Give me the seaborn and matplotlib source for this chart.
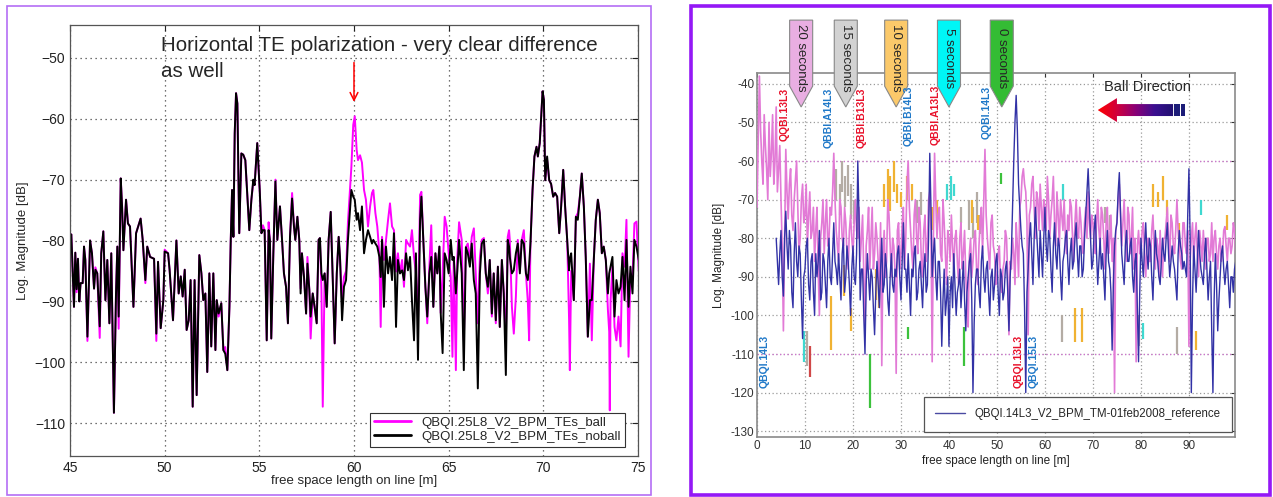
import numpy as np
import pandas as pd
import matplotlib
matplotlib.use("Agg")
from matplotlib import pyplot as plt
from matplotlib.patches import Polygon, Rectangle
from matplotlib.colors import LinearSegmentedColormap
import seaborn as sns

# ---------------- left panel data ----------------
x_a = [45.00, 45.07, 45.21, 45.28, 45.35, 45.42, 45.49, 45.56, 45.67, 45.74,
       45.81, 45.92, 46.06, 46.16, 46.27, 46.34, 46.44, 46.57, 46.65, 46.76,
       46.87, 46.97, 47.08, 47.18, 47.32, 47.43, 47.50, 47.57, 47.68, 47.75,
       47.82, 47.96, 48.06, 48.17, 48.35, 48.49, 48.73, 48.84, 48.98, 49.08,
       49.23, 49.44, 49.56, 49.65, 49.79, 49.93, 50.00, 50.18, 50.26, 50.44,
       50.62, 50.74, 50.85, 50.95, 51.06, 51.16, 51.27, 51.37, 51.48, 51.58,
       51.69, 51.83, 51.94, 52.04, 52.15, 52.25, 52.36, 52.46, 52.57, 52.68,
       52.75, 52.85, 52.99, 53.10, 53.20, 53.31, 53.42, 53.49, 53.56, 53.63,
       53.70, 53.77, 53.84, 53.94, 54.05, 54.15, 54.26, 54.47, 54.58, 54.68,
       54.75, 54.89]
noball_a = [-79.5, -79.0, -90.9, -82.0, -88.0, -83.0, -90.0, -87.0, -87.0, -81.0,
            -83.2, -95.8, -80.0, -82.1, -87.9, -84.8, -85.4, -94.1, -82.1, -78.5,
            -89.8, -83.2, -93.6, -82.1, -108.3, -88.7, -81.0, -92.5, -69.8, -74.4,
            -81.6, -73.3, -77.2, -77.7, -90.9, -78.8, -76.4, -79.9, -86.5, -81.0,
            -82.7, -83.0, -95.3, -83.5, -94.4, -89.8, -81.8, -82.1, -84.8, -93.1,
            -80.0, -88.7, -85.9, -89.2, -84.8, -94.7, -93.1, -86.5, -107.3, -86.5,
            -105.4, -82.4, -85.4, -89.8, -88.7, -101.6, -85.4, -97.4, -85.4, -98.0,
            -89.8, -92.0, -90.3, -98.0, -98.6, -101.3, -90.9, -80.0, -71.7, -79.4,
            -62.4, -55.8, -57.5, -78.8, -65.7, -65.9, -66.8, -78.3, -73.3, -70.0,
            -70.9, -64.0]
ball_a = [-79.5, -79.0, -90.9, -82.0, -88.5, -83.0, -90.0, -87.0, -87.0, -81.0,
          -83.2, -96.5, -80.0, -82.1, -87.9, -84.4, -85.4, -96.0, -82.1, -78.5,
          -89.8, -83.2, -93.6, -82.1, -108.3, -88.7, -81.0, -94.5, -69.8, -74.4,
          -81.6, -73.3, -77.2, -77.7, -90.9, -78.8, -76.4, -79.9, -87.0, -81.0,
          -82.7, -83.0, -96.5, -83.5, -94.4, -89.8, -81.5, -82.1, -84.8, -93.1,
          -80.0, -88.7, -85.9, -89.2, -84.8, -94.7, -93.1, -86.5, -107.3, -86.5,
          -105.4, -82.4, -85.4, -89.8, -88.7, -101.6, -85.4, -97.4, -85.4, -98.0,
          -89.8, -92.5, -90.3, -98.0, -97.5, -101.3, -90.9, -80.0, -71.7, -79.4,
          -62.4, -55.8, -57.5, -78.8, -65.7, -65.9, -66.8, -78.3, -73.3, -70.5,
          -70.9, -64.0]

x_b = [55.02, 55.11, 55.19, 55.28, 55.39, 55.49, 55.56, 55.63, 55.74, 55.85,
       55.95, 56.09, 56.20, 56.30, 56.41, 56.51, 56.62, 56.73, 56.83, 56.90,
       57.01, 57.11, 57.18, 57.25, 57.36, 57.47, 57.54, 57.64, 57.71, 57.82,
       57.92, 58.03, 58.13, 58.20, 58.28, 58.35, 58.45, 58.56, 58.66, 58.77,
       58.87, 58.98, 59.09, 59.19, 59.26, 59.37, 59.47, 59.58, 59.68, 59.86,
       59.96, 60.04, 60.14, 60.21, 60.32, 60.42, 60.53, 60.63, 60.74, 60.85,
       60.95, 61.02, 61.13, 61.23, 61.34, 61.41, 61.48, 61.58, 61.69, 61.80,
       61.90, 62.01, 62.11, 62.22, 62.32, 62.43, 62.54, 62.64, 62.75, 62.85,
       62.96, 63.06, 63.17, 63.27, 63.38, 63.49, 63.56, 63.66, 63.77, 63.87,
       63.98, 64.08, 64.19, 64.30, 64.40, 64.51, 64.58, 64.68, 64.79, 64.89,
       65.00, 65.11]
noball_b = [-71.7, -78.8, -78.3, -78.3, -96.4, -78.3, -80.0, -96.1, -82.1, -70.3,
            -79.9, -74.4, -79.9, -85.4, -87.6, -93.6, -79.4, -73.1, -77.7, -79.9,
            -76.1, -79.9, -88.7, -82.1, -86.0, -92.0, -83.8, -88.1, -92.5, -88.7,
            -90.9, -93.6, -79.9, -79.6, -85.4, -86.5, -85.4, -90.9, -79.9, -75.3,
            -85.4, -96.9, -85.4, -79.4, -82.7, -93.1, -87.6, -86.5, -79.9, -71.7,
            -72.8, -73.3, -76.6, -75.5, -78.3, -74.4, -82.1, -79.9, -78.3, -79.4,
            -80.5, -79.9, -80.5, -81.0, -82.7, -86.0, -79.9, -90.9, -81.0, -85.4,
            -82.7, -86.5, -78.8, -94.2, -83.2, -85.4, -84.9, -86.5, -82.1, -84.9,
            -82.7, -89.8, -96.4, -82.1, -99.6, -76.6, -72.8, -79.9, -87.6, -92.5,
            -85.4, -82.7, -90.9, -82.1, -85.4, -81.0, -91.9, -98.5, -82.1, -83.2,
            -85.4, -79.9]
ball_b = [-71.7, -78.8, -77.5, -78.3, -96.4, -77.0, -80.0, -96.1, -82.1, -70.0,
          -79.9, -74.4, -79.9, -85.4, -87.6, -93.6, -79.4, -72.2, -77.7, -79.9,
          -76.1, -79.9, -87.9, -82.1, -86.0, -92.0, -82.7, -88.1, -96.1, -88.7,
          -90.9, -93.6, -79.9, -79.6, -88.0, -107.3, -85.4, -90.9, -79.9, -75.3,
          -85.4, -96.9, -85.4, -79.4, -82.7, -90.0, -86.0, -85.0, -77.0, -68.0,
          -61.0, -59.6, -65.1, -66.8, -66.0, -67.2, -71.7, -73.3, -77.7, -74.4,
          -72.2, -71.7, -75.5, -77.7, -82.1, -94.2, -79.4, -83.2, -79.9, -76.6,
          -73.9, -77.7, -78.3, -85.1, -82.1, -85.4, -83.2, -87.6, -79.9, -80.5,
          -81.0, -78.3, -82.7, -85.4, -93.0, -72.5, -72.0, -79.9, -87.6, -93.6,
          -84.3, -77.5, -90.9, -82.1, -85.4, -81.0, -91.9, -85.4, -76.1, -77.7,
          -82.1, -86.0]

x_c = [65.20, 65.27, 65.38, 65.45, 65.55, 65.69, 65.80, 65.91, 66.01, 66.12,
       66.22, 66.33, 66.43, 66.54, 66.65, 66.75, 66.86, 66.96, 67.07, 67.17,
       67.28, 67.38, 67.49, 67.60, 67.70, 67.81, 67.91, 68.02, 68.12, 68.19,
       68.23, 68.34, 68.44, 68.55, 68.65, 68.76, 68.86, 68.97, 69.08, 69.18,
       69.25, 69.32, 69.43, 69.53, 69.64, 69.71, 69.81, 69.96, 70.03, 70.10,
       70.20, 70.31, 70.41, 70.52, 70.62, 70.73, 70.84, 70.94, 71.05, 71.15,
       71.26, 71.36, 71.40, 71.47, 71.61, 71.72, 71.82, 71.93, 72.03, 72.14,
       72.24, 72.35, 72.46, 72.56, 72.67, 72.77, 72.88, 72.98, 73.09, 73.19,
       73.30, 73.41, 73.48, 73.51, 73.55, 73.65, 73.76, 73.86, 73.97, 74.08,
       74.18, 74.29, 74.39, 74.50, 74.60, 74.71, 74.81, 74.92, 75.04]
noball_c = [-83.2, -82.7, -88.7, -85.4, -79.9, -85.4, -101.3, -81.1, -82.1, -84.3,
            -80.5, -86.5, -88.7, -104.3, -85.4, -80.5, -79.9, -85.4, -87.6, -83.2,
            -92.0, -85.4, -93.1, -84.3, -94.2, -83.2, -88.7, -102.1, -79.9, -81.0,
            -82.7, -85.4, -84.9, -82.1, -80.5, -85.4, -79.9, -80.5, -85.4, -86.5,
            -84.0, -80.5, -71.7, -66.2, -64.6, -66.2, -64.0, -55.5, -56.9, -70.1,
            -66.2, -70.1, -70.7, -72.8, -72.2, -72.8, -78.8, -74.4, -68.4, -74.4,
            -79.9, -84.9, -83.0, -82.1, -89.8, -76.1, -76.6, -72.8, -69.0, -74.4,
            -82.7, -95.8, -89.8, -89.8, -82.7, -76.6, -73.3, -75.5, -82.1, -81.0,
            -83.2, -88.7, -85.4, -84.9, -84.3, -82.7, -92.5, -86.5, -88.7, -87.6,
            -82.7, -89.8, -79.9, -90.9, -84.3, -88.7, -79.9, -81.0, -83.2]
ball_c = [-99.1, -82.7, -101.3, -83.2, -77.0, -79.9, -96.4, -81.1, -80.5, -83.2,
          -79.4, -78.0, -85.4, -93.6, -82.7, -79.9, -79.6, -85.4, -88.7, -83.2,
          -92.5, -85.4, -93.6, -84.3, -94.2, -83.2, -88.7, -96.4, -79.4, -78.3,
          -80.0, -90.9, -95.3, -89.2, -79.9, -84.9, -79.9, -78.3, -85.4, -90.0,
          -96.4, -80.5, -71.7, -66.2, -64.6, -66.2, -64.0, -55.5, -56.9, -70.1,
          -66.8, -70.1, -70.7, -72.8, -72.2, -72.8, -78.8, -74.4, -68.4, -74.4,
          -79.9, -93.0, -101.3, -85.0, -89.8, -76.1, -75.5, -72.8, -69.0, -74.4,
          -82.7, -95.8, -83.8, -96.4, -82.7, -76.6, -73.3, -75.5, -82.1, -81.0,
          -83.2, -91.4, -95.0, -107.9, -90.0, -84.3, -94.2, -96.4, -92.5, -97.4,
          -82.1, -84.3, -76.6, -99.1, -85.4, -86.0, -77.2, -76.9, -85.0]

left_x = x_a + x_b + x_c
noball = noball_a + noball_b + noball_c
ball = ball_a + ball_b + ball_c
left_labels = ["QBQI.25L8_V2_BPM_TEs_ball", "QBQI.25L8_V2_BPM_TEs_noball"]

# ---------------- right panel data ----------------
# pink trace sampled every 0.5 m from 0, plus the in-between samples from 0.25
pink_step = 0.5
pink_db = [-72, -38, -60, -48, -62, -50, -58, -66, -46, -62,
           -70, -104, -57, -75, -62, -78, -65, -72, -80, -66,
           -74, -82, -68, -78, -86, -72, -100, -76, -84, -70,
           -80, -74, -58, -78, -86, -72, -82, -76, -88, -74,
           -84, -70, -80, -86, -74, -105, -78, -88, -72, -84,
           -80, -92, -113, -78, -86, -74, -90, -82, -115, -76,
           -84, -72, -80, -60, -78, -88, -70, -84, -76, -90,
           -74, -82, -68, -112, -58, -80, -72, -86, -76, -92,
           -80, -74, -88, -78, -92, -76, -84, -90, -103, -80,
           -86, -78, -92, -76, -84, -57, -80, -88, -74, -84,
           -90, -82, -94, -86, -80, -105, -88, -84, -76, -90,
           -70, -62, -68, -105, -72, -64, -80, -70, -66, -78,
           -72, -64, -80, -70, -76, -68, -82, -74, -70, -84,
           -78, -72, -86, -70, -80, -76, -84, -72, -68, -80,
           -76, -84, -70, -82, -74, -88, -72, -80, -86, -120,
           -76, -66, -82, -70, -86, -74, -80, -88, -112, -78,
           -84, -76, -90, -80, -86, -74, -88, -82, -78, -90,
           -80, -72, -86, -76, -84, -70, -82, -88, -76, -84,
           -108, -80, -86, -76, -90, -82, -78, -88, -80, -84,
           -86, -78, -88, -80, -84, -77, -86, -80, -82, -78]
pink_mid = [-55, -52, -66, -56, -70, -64, -48, -60, -68, -56,
            -82, -80, -68, -66, -74, -70, -60, -84, -70, -76,
            -66, -74, -80, -72, -78, -88, -80, -70, -76, -82,
            -72, -68, -70, -82, -70, -80, -72, -84, -78, -80,
            -76, -78, -72, -80, -90, -82, -72, -80, -88, -76,
            -86, -76, -84, -90, -70, -82, -80, -88, -78, -88,
            -76, -88, -66, -72, -84, -74, -80, -72, -86, -78,
            -86, -70, -78, -80, -70, -74, -84, -70, -84, -78,
            -86, -82, -80, -86, -80, -88, -78, -96, -84, -90,
            -80, -88, -82, -72, -70, -74, -84, -76, -82, -92,
            -84, -92, -88, -78, -90, -86, -80, -92, -82, -72,
            -64, -66, -76, -74, -66, -72, -68, -78, -72, -70,
            -78, -70, -74, -64, -82, -74, -70, -78, -80, -74,
            -70, -80, -76, -78, -72, -82, -76, -80, -76, -74,
            -82, -76, -78, -72, -80, -76, -84, -74, -80, -78,
            -70, -74, -76, -80, -72, -84, -72, -80, -82, -84,
            -78, -84, -82, -86, -78, -82, -80, -90, -86, -80,
            -76, -80, -74, -82, -78, -78, -86, -76, -82, -78,
            -86, -76, -80, -84, -78, -86, -84, -80, -86, -76,
            -80, -84, -82, -86, -78, -82, -80, -84, -76, -84]

# reference (blue) trace every 0.5 m from 4 m, plus in-between samples
blue_start = 4.0
blue_db = [-80, -92, -78, -95, -73, -88, -82, -98, -76, -90,
           -84, -106, -88, -80, -96, -84, -100, -90, -78, -94,
           -86, -98, -80, -92, -76, -88, -84, -96, -80, -90,
           -86, -100, -82, -92, -60, -96, -88, -110, -84, -96,
           -90, -105, -86, -98, -80, -92, -88, -100, -84, -94,
           -90, -82, -96, -76, -88, -84, -100, -90, -82, -94,
           -86, -98, -84, -92, -58, -90, -80, -96, -86, -108,
           -88, -96, -108, -90, -84, -100, -92, -98, -86, -104,
           -90, -84, -120, -92, -88, -98, -82, -94, -86, -100,
           -88, -92, -84, -100, -90, -94, -86, -104, -84, -60,
           -43, -66, -78, -84, -120, -88, -76, -92, -72, -84,
           -78, -90, -72, -86, -80, -94, -76, -88, -82, -96,
           -84, -78, -92, -80, -86, -76, -90, -82, -88, -74,
           -62, -80, -86, -74, -92, -80, -84, -96, -78, -88,
           -109, -82, -76, -63, -84, -92, -78, -86, -80, -94,
           -84, -112, -80, -90, -76, -88, -82, -96, -78, -86,
           -92, -80, -86, -76, -90, -82, -88, -96, -78, -84,
           -86, -90, -62, -120, -82, -94, -78, -88, -92, -80,
           -96, -86, -120, -84, -104, -90, -82, -92, -86, -98,
           -90, -88]
blue_mid = [-86, -84, -90, -80, -82, -78, -94, -84, -86, -82,
            -96, -90, -82, -92, -86, -94, -84, -86, -96, -84,
            -92, -86, -90, -84, -86, -92, -90, -84, -94, -82,
            -92, -88, -90, -84, -74, -88, -100, -92, -90, -88,
            -98, -94, -92, -88, -94, -84, -96, -90, -92, -88,
            -84, -90, -86, -88, -94, -92, -88, -84, -96, -88,
            -92, -88, -94, -80, -72, -84, -90, -86, -94, -96,
            -100, -90, -94, -98, -92, -94, -88, -92, -96, -94,
            -86, -96, -102, -88, -94, -86, -90, -88, -94, -90,
            -96, -86, -94, -88, -96, -88, -94, -90, -72, -50,
            -52, -72, -82, -98, -94, -80, -84, -80, -78, -90,
            -84, -80, -82, -78, -88, -82, -84, -80, -90, -86,
            -80, -86, -84, -88, -80, -84, -82, -90, -80, -68,
            -70, -88, -78, -84, -86, -88, -90, -84, -86, -94,
            -92, -78, -68, -74, -88, -82, -86, -82, -90, -86,
            -98, -94, -86, -82, -84, -80, -90, -86, -84, -90,
            -86, -84, -80, -84, -86, -86, -92, -84, -82, -88,
            -88, -74, -80, -96, -88, -86, -84, -90, -84, -88,
            -90, -104, -96, -92, -96, -84, -88, -88, -92, -90,
            -94, -86]

# scattered fragments of the other traces (x, low, high, colour)
frag_x = [16.5, 17.2, 17.8, 18.4, 19.0, 19.6, 20.2,
          26.5, 27.2, 27.8, 28.5, 29.2, 30.0, 31.2, 32.4,
          33.4, 34.2, 36.5, 37.6, 39.5, 40.5, 41.0,
          42.5, 44.2, 45.0, 45.8, 46.5, 44.8, 46.0, 50.8, 63.8,
          72.5, 73.5, 82.5, 83.5, 84.5, 85.5, 88.0, 92.5, 98.0,
          15.5, 18.2, 19.5, 23.5, 31.5, 43.2, 10.5, 11.0, 9.8,
          63.5, 66.2, 67.8, 79.7, 87.5, 91.5, 80.5, 24.8, 25.5]
frag_lo = [-70, -74, -68, -72, -69, -75, -76,
           -72, -70, -73, -68, -71, -72, -70, -70,
           -76, -74, -78, -76, -70, -70, -69,
           -76, -78, -80, -76, -79, -76, -78, -66, -70,
           -76, -78, -72, -72, -70, -74, -80, -74, -78,
           -109, -95, -104, -124, -106, -113, -113, -116, -112,
           -107, -107, -107, -108, -110, -109, -106, -96, -98]
frag_hi = [-62, -66, -60, -64, -61, -66, -70,
           -66, -62, -64, -60, -66, -68, -64, -66,
           -70, -68, -72, -70, -66, -64, -66,
           -72, -70, -72, -68, -74, -70, -74, -63, -66,
           -72, -74, -66, -68, -64, -70, -76, -70, -74,
           -95, -87, -98, -110, -103, -103, -104, -108, -104,
           -100, -98, -98, -100, -103, -104, -102, -88, -90]
frag_c = (["#b4aca4"] * 7 + ["#f0b232"] * 8 + ["#b4aca4"] * 2 + ["#f0b232"] * 2
          + ["#3fd8d0"] * 3 + ["#b4aca4"] * 5 + ["#f0b232"] * 2 + ["#3cc23c", "#3fd8d0"]
          + ["#b4aca4"] * 2 + ["#f0b232"] * 5 + ["#3fd8d0", "#f0b232"]
          + ["#f0b232"] * 3 + ["#3cc23c"] * 3 + ["#b4aca4", "#d04848", "#3fd8d0"]
          + ["#b4aca4", "#f0b232", "#f0b232", "#b4aca4", "#b4aca4", "#f0b232", "#3fd8d0",
             "#f0b232", "#f0b232"])

callout_text = ["20 seconds", "15 seconds", "10 seconds", "5 seconds", "0 seconds"]
callout_x = [9.2, 18.5, 29.0, 40.0, 51.0]
callout_col = ["#e9aee2", "#d2d2d2", "#fbc96a", "#00f6f6", "#34bc34"]

top_names = ["QQBI.13L3", "QBBI.A14L3", "QBBI.B13L3", "QBBI.B14L3", "QBBI.A13L3", "QQBI.14L3"]
top_x = [5.8, 15.0, 21.7, 31.5, 37.3, 47.9]
top_y = [-41.1, -41.1, -41.1, -40.6, -40.3, -40.6]
bot_names = ["QBQI.14L3", "QBQI.13L3", "QBQI.15L3"]
bot_x = [1.5, 54.6, 57.7]
RED, BLUE = "#e8102a", "#1f78c8"
top_col = [RED, BLUE, RED, BLUE, RED, BLUE]
bot_col = [BLUE, RED, BLUE]

# ---------------- figure ----------------
sns.set_style("white")
plt.rcParams['font.family'] = ['Liberation Sans', 'DejaVu Sans']

W, H = 1273, 497
fig = plt.figure(figsize=(W / 100, H / 100), dpi=100)

# purple frames round the two pictures
fig.patches.append(Rectangle((7 / W, 2 / H), 644 / W, 489 / H, transform=fig.transFigure,
                             fill=False, ec="#b46ef5", lw=1.2))
fig.patches.append(Rectangle((691 / W, 2 / H), 579 / W, 489 / H, transform=fig.transFigure,
                             fill=False, ec="#9418f6", lw=2.6))

# ---- left chart
ax = fig.add_axes([70 / W, 41 / H, 568 / W, 431 / H])
left_df = pd.DataFrame({"x": left_x, "ball": ball, "noball": noball})
sns.lineplot(data=left_df, x="x", y="ball", ax=ax, color="#ff00ff", lw=1.4,
             estimator=None, sort=False, label=left_labels[0])
sns.lineplot(data=left_df, x="x", y="noball", ax=ax, color="black", lw=1.4,
             estimator=None, sort=False, label=left_labels[1])
ax.set_xlim(45, 75)
ax.set_ylim(-115.4, -44.6)
ax.set_xticks([45, 50, 55, 60, 65, 70, 75])
ax.set_yticks([-110, -100, -90, -80, -70, -60, -50])
ax.grid(True, ls=(0, (1, 3)), color="#444444", lw=0.9)
ax.tick_params(direction="in", top=True, right=True, length=4, labelsize=10, colors="#222222")
for s in ax.spines.values():
    s.set_color("#555555")
    s.set_linewidth(0.9)
ax.set_xlabel("free space length on line [m]", fontsize=9.5)
ax.set_ylabel("Log. Magnitude [dB]", fontsize=9.5)
ax.xaxis.set_label_coords(0.5, -0.045)
ax.yaxis.set_label_coords(-0.072, 0.5)
ax.text(0.160, 0.975, "Horizontal TE polarization - very clear difference\nas well",
        transform=ax.transAxes, fontsize=14.8, va="top", ha="left", linespacing=1.5)
ax.annotate("", xy=(60, -57.7), xytext=(60, -50.3),
            arrowprops=dict(arrowstyle="->", color="red", lw=1.1, mutation_scale=14))
leg = ax.legend(loc="lower right", bbox_to_anchor=(0.977, 0.021), fontsize=9.5,
                frameon=True, fancybox=False, edgecolor="#333333", framealpha=1,
                handlelength=2.8, borderpad=0.3, labelspacing=0.15, borderaxespad=0)
leg.get_frame().set_linewidth(0.8)
for ln in leg.get_lines():
    ln.set_linewidth(2)

# ---- right chart
ax2 = fig.add_axes([757 / W, 60 / H, 478 / W, 364 / H])
pink_df = pd.DataFrame({
    "x": np.concatenate([np.arange(len(pink_db)) * pink_step,
                         0.25 + np.arange(len(pink_mid)) * pink_step]),
    "db": pink_db + pink_mid}).sort_values("x")
blue_df = pd.DataFrame({
    "x": np.concatenate([blue_start + np.arange(len(blue_db)) * pink_step,
                         blue_start + 0.25 + np.arange(len(blue_mid)) * pink_step]),
    "db": blue_db + blue_mid}).sort_values("x")
ax2.vlines(frag_x, frag_lo, frag_hi, colors=frag_c, lw=1.6, zorder=2)
sns.lineplot(data=pink_df, x="x", y="db", ax=ax2, color="#e27ad6", lw=1.2,
             estimator=None, sort=False, zorder=3)
sns.lineplot(data=blue_df, x="x", y="db", ax=ax2, color="#3232a6", lw=1.0,
             estimator=None, sort=False, zorder=4,
             label="QBQI.14L3_V2_BPM_TM-01feb2008_reference")
ax2.set_xlim(0, 99.6)
ax2.set_ylim(-131.5, -37.2)
xt = [0, 10, 20, 30, 40, 50, 60, 70, 80, 90]
yt = [-130, -120, -110, -100, -90, -80, -70, -60, -50, -40]
ax2.set_xticks(xt, labels=[str(v) for v in xt])
ax2.set_yticks(yt, labels=[str(v) for v in yt])
ax2.grid(True, ls=(0, (1, 2)), color="#9a9a9a", lw=0.9)
for yv in (-60, -110):
    ax2.axhline(yv, ls=(0, (1, 2)), color="#d070d0", lw=0.9, zorder=1)
ax2.tick_params(direction="in", top=True, right=True, length=3, labelsize=8.5,
                colors="#333333", pad=2)
for s in ax2.spines.values():
    s.set_color("#8a8a8a")
    s.set_linewidth(1.2)
ax2.set_xlabel("free space length on line [m]", fontsize=8.5, color="#222222")
ax2.set_ylabel("Log. Magnitude [dB]", fontsize=8.5, color="#222222")
ax2.xaxis.set_label_coords(0.5, -0.05)
ax2.yaxis.set_label_coords(-0.067, 0.5)

# time callouts above the axes
for t, cx, c in zip(callout_text, callout_x, callout_col):
    poly = Polygon([(cx - 2.4, -23.5), (cx + 2.4, -23.5), (cx + 2.4, -40.6),
                    (cx, -46.0), (cx - 2.4, -40.6)], closed=True, fc=c,
                   ec="#888888", lw=0.8, clip_on=False, zorder=6)
    ax2.add_patch(poly)
    ax2.text(cx, -33.3, t, rotation=270, ha="center", va="center", fontsize=9.5,
             clip_on=False, zorder=7)

for n, x0, y0, c in zip(top_names, top_x, top_y, top_col):
    ax2.text(x0, y0, n, rotation=90, ha="center", va="top", fontsize=7.5,
             fontweight="bold", color=c, zorder=7)
for n, x0, c in zip(bot_names, bot_x, bot_col):
    ax2.text(x0, -118.8, n, rotation=90, ha="center", va="bottom", fontsize=7.5,
             fontweight="bold", color=c, zorder=7)

# ball direction arrow with a colour gradient
ax2.text(81.4, -40.9, "Ball Direction", ha="center", va="center", fontsize=10.5, zorder=7)
arrow = Polygon([(71.0, -46.8), (75.0, -43.7), (75.0, -45.25), (86.7, -45.25),
                 (86.7, -48.35), (75.0, -48.35), (75.0, -49.9)], closed=True,
                fc="none", ec="none", zorder=6)
ax2.add_patch(arrow)
grad_cmap = LinearSegmentedColormap.from_list(
    "balldir", ["#ff0000", "#d0003c", "#880078", "#3a1090", "#201070"])
img = ax2.imshow(np.linspace(0, 1, 256).reshape(1, -1), cmap=grad_cmap, aspect="auto",
                 extent=[71.0, 86.7, -49.9, -43.7], zorder=6, interpolation="bilinear")
img.set_clip_path(arrow)
ax2.add_patch(Rectangle((86.95, -48.35), 1.2, 3.1, fc="#1c1c78", ec="none", zorder=6))
ax2.add_patch(Rectangle((88.45, -48.35), 0.8, 3.1, fc="#1c1c78", ec="none", zorder=6))
ax2.set_xlim(0, 99.6)
ax2.set_ylim(-131.5, -37.2)

leg2 = ax2.legend(loc="lower right", bbox_to_anchor=(0.994, 0.014), fontsize=8.3,
                  frameon=True, fancybox=False, edgecolor="#555555", framealpha=1,
                  handlelength=2.6, borderpad=1.0, borderaxespad=0)
leg2.get_frame().set_linewidth(0.9)
for ln in leg2.get_lines():
    ln.set_color("#4a4aa2")
    ln.set_linewidth(1.0)

fig.savefig("out.png", dpi=100)
